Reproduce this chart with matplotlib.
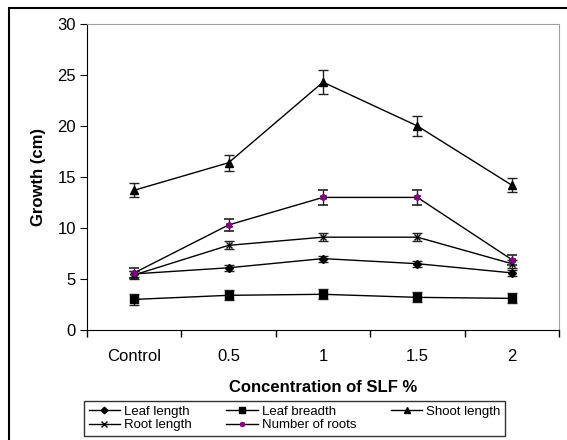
import matplotlib.pyplot as plt
from matplotlib.patches import Rectangle
from matplotlib.lines import Line2D
import numpy as np

plt.rcParams['font.family'] = ['Liberation Sans', 'DejaVu Sans']

categories = ['Control', '0.5', '1', '1.5', '2']

leaf_length = [5.5, 6.1, 7.0, 6.5, 5.6]
leaf_length_err = [0.3, 0.3, 0.3, 0.3, 0.3]
leaf_breadth = [3.0, 3.4, 3.5, 3.2, 3.1]
leaf_breadth_err = [0.5, 0.5, 0.5, 0.5, 0.5]
shoot_length = [13.7, 16.4, 24.3, 20.0, 14.2]
shoot_length_err = [0.7, 0.8, 1.2, 1.0, 0.7]
root_length = [5.4, 8.3, 9.1, 9.1, 6.5]
root_length_err = [0.4, 0.4, 0.4, 0.4, 0.4]
num_roots = [5.6, 10.3, 13.0, 13.0, 6.9]
num_roots_err = [0.5, 0.6, 0.7, 0.7, 0.5]

fig = plt.figure(figsize=(5.67, 4.4), dpi=100)
ax = fig.add_axes([87/567, 110/440, 472/567, 306/440])

# outer frame like the spreadsheet chart area
fig.patches.append(Rectangle((9/567, -0.1), 1.2, 1 - 8/440 + 0.1, transform=fig.transFigure,
                             fill=False, edgecolor='black', linewidth=1.5))

x = np.arange(len(categories))
eb = dict(ecolor='#222222', elinewidth=1, capsize=3.5, capthick=1)

series = [
    ('Leaf length', leaf_length, leaf_length_err, dict(marker='D', ms=4.5)),
    ('Leaf breadth', leaf_breadth, leaf_breadth_err, dict(marker='s', ms=5.5)),
    ('Shoot length', shoot_length, shoot_length_err, dict(marker='^', ms=6)),
    ('Root length', root_length, root_length_err, dict(marker='x', ms=5, mew=1)),
    ('Number of roots', num_roots, num_roots_err,
     dict(marker=(6, 2, 0), ms=5, mew=1.2, mec='#800080', mfc='#800080')),
]

handles = {}
for name, vals, err, mk in series:
    ax.errorbar(x, vals, yerr=err, color='black', lw=1, **mk, **eb)
    lmk = dict(mk)
    lmk['ms'] = mk['ms'] * 0.75
    handles[name] = Line2D([], [], color='black', lw=1, **lmk)

ax.set_xlim(-0.5, 4.5)
ax.set_ylim(0, 30)
ax.set_yticks([0, 5, 10, 15, 20, 25, 30])
ax.set_xticks(x)
ax.set_xticklabels(categories)
ax.set_xticks(np.arange(-0.5, 5, 1), minor=True)
ax.tick_params(axis='x', which='major', length=0, pad=14, labelsize=12)
ax.tick_params(axis='x', which='minor', length=5, direction='out', width=1)
ax.tick_params(axis='y', length=5, direction='out', labelsize=12, pad=3)

ax.spines['top'].set_color('#a0a0a0')
ax.spines['right'].set_color('#a0a0a0')
ax.spines['left'].set_color('black')
ax.spines['bottom'].set_color('black')

ax.set_xlabel('Concentration of SLF %', fontsize=12, fontweight='bold', labelpad=11)
ax.set_ylabel('Growth (cm)', fontsize=12, fontweight='bold', labelpad=8)

order = ['Leaf length', 'Root length', 'Leaf breadth', 'Number of roots', 'Shoot length']
leg = fig.legend(handles=[handles[n] for n in order], labels=order, ncol=3,
                 loc='upper left', bbox_to_anchor=(84/567, 1 - 401/440),
                 fontsize=9.5, frameon=True, fancybox=False, edgecolor='black',
                 borderpad=0.35, handlelength=2.4, handletextpad=0.3, columnspacing=2.6,
                 labelspacing=0.1, borderaxespad=0)
leg.get_frame().set_linewidth(1)

fig.savefig('out.png', dpi=100)
